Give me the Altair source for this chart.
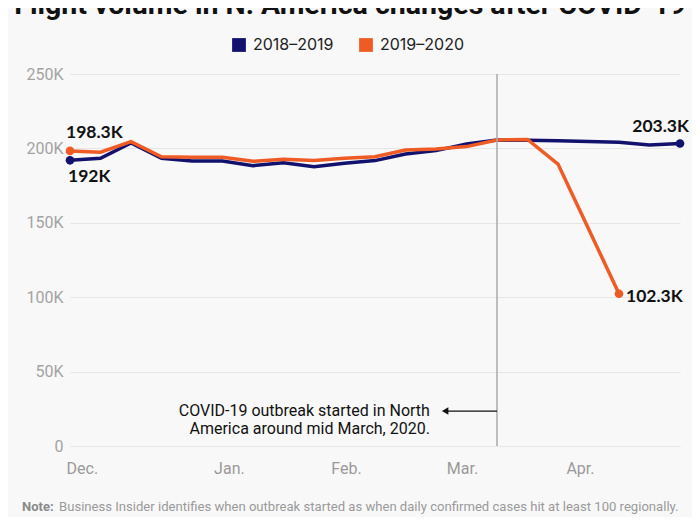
import altair as alt
import pandas as pd

# ---- data (values in thousands of flights, weekly) ----
series_names = ["2018–2019", "2019–2020"]
series_colors = ["#12126e", "#ef5b25"]
flights_2018_19 = [192.0, 193.3, 203.6, 193.3, 191.5, 191.5, 188.4, 190.4, 187.7, 190.0,
                   191.8, 196.2, 198.5, 203.0, 205.6, 205.4, 205.1, 204.7, 204.1, 202.3, 203.3]
flights_2019_20 = [198.3, 197.4, 204.5, 194.4, 194.0, 194.0, 191.3, 192.7, 191.8, 193.4,
                   194.4, 198.9, 199.6, 201.2, 205.6, 206.0, 189.5, 146.0, 102.3]
month_labels = ["Dec.", "Jan.", "Feb.", "Mar.", "Apr."]
month_ticks = [0.39, 5.21, 9.05, 12.85, 16.72]
y_ticks = [0, 50, 100, 150, 200, 250]
covid_week = 14
title_text = "Flight volume in N. America changes after COVID-19"
note_bold = "Note:"
note_text = "Business Insider identifies when outbreak started as when daily confirmed cases hit at least 100 regionally."
annotation_text = "COVID-19 outbreak started in North\nAmerica around mid March, 2020."

rows = []
for name, vals in zip(series_names, [flights_2018_19, flights_2019_20]):
    for i, v in enumerate(vals):
        rows.append({"series": name, "week": i, "value": v})
df = pd.DataFrame(rows)

ends = []
for name, vals in zip(series_names, [flights_2018_19, flights_2019_20]):
    ends.append({"series": name, "week": 0, "value": vals[0], "label": f"{vals[0]:g}K", "pos": "start"})
    ends.append({"series": name, "week": len(vals) - 1, "value": vals[-1], "label": f"{vals[-1]:g}K", "pos": "end"})
ends_df = pd.DataFrame(ends)

x_scale = alt.Scale(domain=[0, 20], nice=False, zero=False)
y_scale = alt.Scale(domain=[0, 250], nice=False)
color_scale = alt.Scale(domain=series_names, range=series_colors)

label_expr = " : ".join(
    [f"datum.value < {(month_ticks[i] + month_ticks[i + 1]) / 2} ? '{month_labels[i]}'" for i in range(len(month_ticks) - 1)]
) + f" : '{month_labels[-1]}'"

x_enc = alt.X("week:Q", scale=x_scale,
              axis=alt.Axis(values=month_ticks, labelExpr=label_expr, title=None, grid=False,
                            domain=False, ticks=False, labelPadding=14, labelFontSize=16,
                            labelColor="#9a9a9a", labelFont="Roboto"))
y_enc = alt.Y("value:Q", scale=y_scale,
              axis=alt.Axis(values=y_ticks, labelExpr="datum.value == 0 ? '0' : datum.value + 'K'",
                            title=None, domain=False, ticks=False, labelPadding=7, labelFontSize=16,
                            labelColor="#a3a3a3", labelFont="Roboto", gridColor="#e6e6e6"))

legend = alt.Legend(title=None, orient="none", legendX=161, legendY=-37, direction="horizontal",
                    symbolType="square", symbolSize=190, symbolStrokeWidth=0, labelFontSize=16,
                    labelFont="Inter", labelColor="#222222", labelOffset=6, columnPadding=24)

base = alt.Chart(df)

points = alt.Chart(ends_df).mark_point(filled=True, size=75, opacity=1).encode(
    x=alt.X("week:Q", scale=x_scale), y=alt.Y("value:Q", scale=y_scale),
    color=alt.Color("series:N", scale=color_scale, legend=legend))

lines = base.mark_line(strokeWidth=3.5).encode(
    x=x_enc, y=y_enc, color=alt.Color("series:N", scale=color_scale, legend=legend))

rule_df = pd.DataFrame({"week": [covid_week], "lo": [0], "hi": [250]})
vrule = alt.Chart(rule_df).mark_rule(color="#aaaaaa", strokeWidth=1.5).encode(
    x=alt.X("week:Q", scale=x_scale), y=alt.Y("lo:Q", scale=y_scale), y2="hi:Q")

arrow_df = pd.DataFrame({"x1": [covid_week], "x2": [12.3], "y": [23.5]})
arrow_line = alt.Chart(arrow_df).mark_rule(color="#111111", strokeWidth=1.3).encode(
    x=alt.X("x1:Q", scale=x_scale), x2="x2:Q", y=alt.Y("y:Q", scale=y_scale))
arrow_head = alt.Chart(arrow_df).mark_point(shape="triangle-left", filled=True, size=55,
                                            color="#111111", opacity=1).encode(
    x=alt.X("x2:Q", scale=x_scale), y=alt.Y("y:Q", scale=y_scale))

ann_df = pd.DataFrame({"x": [11.8], "y": [23.5], "text": [annotation_text]})
ann = alt.Chart(ann_df).mark_text(align="right", baseline="middle", fontSize=16, font="Roboto",
                                  color="#111111", lineBreak="\n", lineHeight=18).encode(
    x=alt.X("x:Q", scale=x_scale), y=alt.Y("y:Q", scale=y_scale), text="text:N")

label_layers = []
label_styles = {
    ("2019–2020", "start"): dict(align="left", dx=-4, dy=-18),
    ("2018–2019", "start"): dict(align="left", dx=-2, dy=17),
    ("2018–2019", "end"): dict(align="right", dx=9, dy=-16),
    ("2019–2020", "end"): dict(align="left", dx=7, dy=3),
}
for (s, p), st in label_styles.items():
    sub = ends_df[(ends_df.series == s) & (ends_df.pos == p)]
    label_layers.append(alt.Chart(sub).mark_text(baseline="middle", fontSize=17.5, fontWeight="bold",
                                                 font="Lato", color="#111111", **st).encode(
        x=alt.X("week:Q", scale=x_scale), y=alt.Y("value:Q", scale=y_scale), text="label:N"))

title = alt.Chart(pd.DataFrame({"t": [title_text]})).mark_text(
    align="center", baseline="alphabetic", fontSize=28.5, fontWeight="bold", font="Roboto",
    color="#111111").encode(x=alt.value(280), y=alt.value(-60), text="t:N")

note1 = alt.Chart(pd.DataFrame({"t": [note_bold]})).mark_text(
    align="left", baseline="middle", fontSize=13, fontWeight="bold", font="Roboto",
    color="#8a8a8a").encode(x=alt.value(-48), y=alt.value(433), text="t:N")
note2 = alt.Chart(pd.DataFrame({"t": [note_text]})).mark_text(
    align="left", baseline="middle", fontSize=13.1, font="Roboto",
    color="#9a9a9a").encode(x=alt.value(-11), y=alt.value(433), text="t:N")

chart = alt.layer(points, lines, vrule, arrow_line, arrow_head, ann, *label_layers, title, note1, note2).properties(
    width=610, height=372,
    padding={"left": 62, "top": 66, "right": 12, "bottom": 71},
    autosize=alt.AutoSizeParams(type="none"),
    background="#f8f8f8",
).configure_view(stroke=None)

chart.save("out.html", embed_options={"renderer": "svg", "actions": False})
